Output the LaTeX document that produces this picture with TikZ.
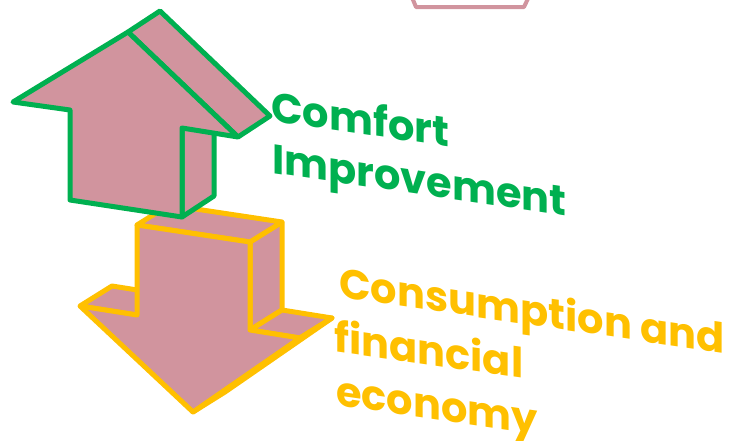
\documentclass[tikz,border=0pt]{standalone}
\usepackage{fontspec}
\setmainfont{Poppins}
\definecolor{gr}{RGB}{0,176,80}
\definecolor{yl}{RGB}{255,192,0}
\definecolor{pk}{RGB}{209,148,158}
\begin{document}
\begin{tikzpicture}[x=1pt,y=-1pt,
  face/.style={fill=pk, line join=round, line width=5pt},
  gface/.style={face, draw=gr},
  yface/.style={face, draw=yl},
  lbl/.style={anchor=base west, inner sep=0pt, yslant=-0.146, font=\fontsize{41.5}{48}\selectfont\bfseries}]
\useasboundingbox (0,0) rectangle (734,440);
\clip (0,0) rectangle (734,440);
% partial shape at top
\draw[draw=pk, line width=4pt, line join=round, fill=white] (408,-12) -- (416,7) -- (524,7) -- (533,-12);
% yellow down arrow
\draw[yface] (250,242) -- (282,222) -- (282,310) -- (250,330) -- cycle;
\draw[yface] (137,225) -- (250,242) -- (282,222) -- (169,205) -- cycle;
\draw[yface] (80,306) -- (112,286) -- (169,295) -- (137,315) -- cycle;
\draw[yface] (250,330) -- (282,310) -- (332,318) -- (300,338) -- cycle;
\draw[yface] (300,338) -- (332,318) -- (225,392) -- (193,412) -- cycle;
\draw[yface] (137,225) -- (250,242) -- (250,330) -- (300,338) -- (193,412) -- (80,306) -- (137,315) -- cycle;
% green up arrow
\draw[gface] (182,128) -- (214,107) -- (214,196) -- (182,217) -- cycle;
\draw[gface] (128,32) -- (160,11) -- (270,116) -- (238,137) -- cycle;
\draw[gface] (13,102) -- (128,32) -- (238,137) -- (182,128) -- (182,217) -- (70,200) -- (70,110) -- cycle;
% labels
\node[lbl, text=gr] (c1) at (271,121) {Comfort};
\node[lbl, text=gr] (c2) at (272,173) {Improvement};
\node[lbl, text=yl] (y1) at (339,297) {Consumption and};
\node[lbl, text=yl] (y2) at (334,351) {financial};
\node[lbl, text=yl] (y3) at (336,405) {economy};
\end{tikzpicture}
\end{document}
